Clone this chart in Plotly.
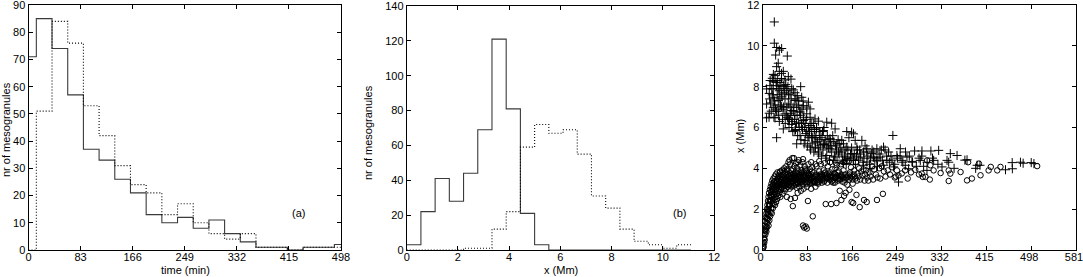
import plotly.graph_objects as go

# ---------------- Panel (a): lifetime histograms ----------------
time_bin_edges_a = [0, 12.5, 37.5, 62.5, 87.5, 112.5, 137.5, 162.5, 187.5, 212.5, 237.5,
                    262.5, 287.5, 312.5, 337.5, 362.5, 387.5, 412.5, 437.5, 462.5, 487.5, 512.5]
counts_a_solid = [71, 85, 74, 57, 37, 33, 26, 21, 13, 10, 12, 8, 11, 6, 3, 1, 1, 0, 1, 1, 2]
counts_a_dotted = [0, 51, 84, 76, 53, 42, 31, 24, 21, 13, 17, 10, 6, 4, 6, 1, 1, 0, 1, 1, 1]
time_ticks = [0, 83, 166, 249, 332, 415, 498]
count_ticks_a = [0, 10, 20, 30, 40, 50, 60, 70, 80, 90]

# ---------------- Panel (b): size histograms ----------------
x_bin_edges_b = [0, 0.555, 1.11, 1.665, 2.22, 2.775, 3.33, 3.885, 4.44, 4.995, 5.55,
                 6.105, 6.66, 7.215, 7.77, 8.325, 8.88, 9.435, 9.99, 10.545, 11.1]
counts_b_solid = [3, 22, 41, 28, 44, 69, 121, 81, 21, 3, 0, 0, 0, 0, 0, 0, 0, 0, 0, 0]
counts_b_dotted = [0, 0, 0, 0, 1, 1, 12, 22, 59, 72, 67, 69, 55, 31, 24, 12, 5, 3, 1, 3]
x_ticks_b = [0, 2, 4, 6, 8, 10, 12]
count_ticks_b = [0, 20, 40, 60, 80, 100, 120, 140]

# ---------------- Panel (c): scatter x vs time ----------------
cross_t = [21.7, 21.7, 26, 31, 35.3, 24.2, 45.8, 29, 26, 31, 38.4, 35, 23, 18, 47.7, 41.5, 19.8, 32,
           52.6, 13.6, 26, 38.4, 70.6, 7.4, 19.8, 31, 44.6, 57, 12.4, 35.3, 50.8, 64.4, 72.5, 19.8,
           41.5, 29, 60, 84.9, 7.4, 47.7, 75.6, 35.3, 19.8, 63.2, 88, 53.9, 29, 69.4, 12.4, 41.5,
           81.8, 60, 7.4, 23, 47.7, 97.2, 75.6, 66.9, 103.4, 53.9, 88, 118.9, 128, 72.5, 38.4, 100,
           60, 81.8, 112.7, 134.4, 156, 165, 168.5, 26, 69.4, 91, 106.5, 125, 78.7, 97.2, 146.8,
           171.6, 184, 241.5, 63.2, 112.7, 137.5, 88, 125, 156, 174.7, 193.3, 211.8, 224.2, 255.2,
           103.4, 140.6, 165.4, 187, 202.5, 233.5, 281.8, 295.4, 312, 326.4, 118.9, 134.4, 153,
           180.9, 205.6, 218, 249, 267.6, 348, 360.5, 131.3, 168.5, 193.3, 211.8, 230.4, 258.3,
           276.9, 292.4, 317.1, 341.9, 379, 149.9, 187, 224.2, 242.8, 264.5, 298.5, 332.6, 397.7,
           199.4, 270.7, 304.7, 450.3, 462.7, 498, 503, 252,
           15, 17, 22, 24, 27, 28, 30, 33, 34, 36, 37, 39, 40, 42, 43, 45, 46, 48, 49, 51, 52, 54,
           55, 56, 58, 59, 61, 62, 64, 65, 67, 68, 70, 71, 73, 74, 76, 77, 79, 80, 82, 83, 85, 86,
           88, 89, 91, 92, 94, 95, 97, 98, 100, 102, 104, 105, 107, 109, 110, 112, 114, 115, 117,
           120, 122, 124, 126, 128, 130, 133, 135, 138, 140, 142, 145, 148, 150, 152, 155, 158,
           160, 162, 165, 170, 172, 176, 178, 182, 186, 190, 195, 198, 203, 208, 213, 216, 222,
           227, 235, 238, 245, 250, 260, 272, 285, 290,
           12, 13, 14, 16, 18, 20, 21, 23, 25, 26, 29, 31, 32, 35, 38, 41, 44, 47, 50, 53, 57, 60,
           63, 66, 69, 72, 75, 78, 81, 84, 87, 90, 93, 96, 99, 103, 106, 111, 116, 119, 123, 127,
           132, 137, 143, 147, 153, 157, 163, 168, 174, 180, 188, 193, 200, 206, 212, 220, 230,
           240, 255, 265, 278, 295, 305, 315, 325, 345, 355, 375, 395, 403, 463, 478, 483]
cross_x = [11.17, 10.13, 9.92, 9.79, 9.87, 9.55, 9.5, 9.15, 8.98, 8.75, 8.75, 8.65, 8.54, 8.41, 8.49,
           8.33, 8.26, 8.21, 8.37, 8.05, 8.05, 8.05, 8.0, 7.89, 7.89, 7.8, 7.8, 7.84, 7.67, 7.64,
           7.64, 7.56, 7.48, 7.48, 7.4, 7.32, 7.32, 7.24, 7.15, 7.15, 7.07, 7.02, 6.99, 6.99, 6.91,
           6.83, 6.8, 6.75, 6.7, 6.67, 6.67, 6.59, 6.47, 6.47, 6.42, 6.42, 6.34, 6.26, 6.31, 6.15,
           6.1, 6.26, 6.21, 6.02, 5.93, 5.93, 5.85, 5.82, 5.85, 5.93, 5.8, 5.77, 5.69, 5.5, 5.61,
           5.53, 5.61, 5.45, 5.37, 5.28, 5.37, 5.37, 5.37, 5.61, 5.2, 5.17, 5.2, 5.04, 4.96, 5.04,
           5.04, 4.96, 4.96, 5.04, 4.96, 4.8, 4.8, 4.72, 4.8, 4.72, 4.8, 4.85, 4.85, 4.85, 4.88,
           4.63, 4.55, 4.55, 4.55, 4.55, 4.55, 4.63, 4.55, 4.72, 4.63, 4.39, 4.39, 4.31, 4.36, 4.39,
           4.39, 4.34, 4.39, 4.39, 4.39, 4.42, 4.23, 4.15, 4.15, 4.07, 4.15, 4.1, 4.07, 4.15, 3.98,
           3.98, 3.9, 3.93, 4.28, 4.28, 4.23, 3.33,
           7.2, 7.9, 7.3, 6.9, 7.6, 8.3, 6.6, 7.1, 8.0, 7.5, 6.4, 7.0, 7.7, 6.2, 8.1, 7.0, 6.5, 7.6,
           6.0, 7.1, 6.7, 7.9, 6.3, 5.8, 7.0, 6.4, 5.9, 7.4, 6.6, 5.6, 7.1, 6.0, 6.6, 5.4, 6.9, 5.9,
           6.5, 5.2, 6.2, 5.7, 7.0, 5.1, 6.0, 5.5, 6.5, 4.9, 5.8, 5.2, 6.2, 4.8, 5.6, 5.0, 6.0, 5.3,
           4.7, 5.8, 5.1, 4.6, 5.5, 4.9, 6.0, 5.2, 4.5, 5.6, 5.0, 4.4, 5.3, 4.8, 5.6, 4.6, 5.1, 4.3,
           5.4, 4.7, 5.0, 4.4, 5.2, 4.6, 4.2, 4.9, 5.5, 4.4, 5.0, 4.7, 4.2, 4.9, 4.4, 4.7, 4.3, 5.1,
           4.6, 4.2, 4.9, 4.4, 4.1, 4.7, 4.4, 4.9, 4.3, 4.6, 4.2, 4.5, 4.3, 4.6, 4.1, 4.5,
           6.5, 7.4, 8.3, 6.8, 7.6, 8.6, 6.5, 7.1, 8.2, 6.8, 7.9, 6.3, 7.4, 8.4, 6.9, 7.9, 6.6, 8.0,
           6.4, 7.4, 6.8, 7.7, 6.2, 7.3, 6.8, 6.2, 7.3, 6.0, 6.4, 5.6, 5.8, 6.2, 5.5, 5.9, 5.5, 5.0,
           5.4, 5.8, 5.4, 5.1, 5.4, 5.1, 5.3, 4.9, 5.2, 4.8, 4.9, 4.5, 4.7, 4.5, 4.6, 4.9, 4.5, 4.8,
           4.5, 4.8, 4.5, 4.9, 4.6, 4.4, 4.6, 4.8, 4.3, 4.6, 4.3, 4.5, 4.2, 4.3, 4.0, 4.4, 4.0, 4.15,
           3.98, 4.3, 4.25]

circle_t = [0.5, 1, 1.5, 2, 2.5, 3, 3, 3.5, 4, 4.5, 5, 5, 5.5, 6, 6.5, 7, 7, 7.5, 8, 8, 8.5, 9, 9,
            9.5, 10, 10, 10.5, 11, 11, 11.5, 12, 12, 12.5, 13, 13, 13.5, 14, 14, 14.5, 15, 15, 15.5,
            16, 16, 16.5, 17, 17, 17.5, 18, 18, 18.5, 19, 19, 19.5, 20, 20, 20.5, 21, 21, 22, 22,
            22.5, 23, 23, 24, 24, 24.5, 25, 25, 26, 26, 27, 27, 27.5, 28, 28, 29, 29, 30, 30, 31, 31,
            32, 32, 33, 33, 34, 34, 35, 35, 36, 36, 37, 37, 38, 38, 39, 39, 40, 40, 41, 41, 42, 42,
            43, 43, 44, 44, 45, 45, 46, 46, 47, 47, 48, 48, 49, 49, 50, 50, 51, 51, 52, 52, 53, 53,
            54, 54, 55, 55, 56, 56, 57, 57, 58, 58, 59, 59, 60, 60, 61, 61, 62, 62, 63, 63, 64, 64,
            65, 65, 66, 66, 67, 67, 68, 68, 69, 70, 70, 71, 71, 72, 72, 73, 74, 74, 75, 75, 76, 76,
            77, 77, 78, 78, 79, 80, 80, 81, 81, 82, 82, 83, 84, 84, 85, 85, 86, 87, 88, 88, 89, 90,
            90, 91, 92, 92, 93, 94, 95, 96, 97, 98, 99, 100, 100, 102, 103, 104, 105, 106, 108, 108,
            110, 110, 112, 113, 114, 115, 116, 117, 118, 119, 120, 121, 122, 124, 125, 126, 127, 128,
            129, 130, 132, 133, 134, 135, 136, 137, 138, 140, 141, 142, 143, 144, 145, 146, 146, 148,
            149, 150, 151, 152, 153, 154, 155, 156, 157, 158, 160, 161, 162, 163, 164, 165, 166, 167,
            168, 169, 170, 172, 173, 174, 175, 176, 178, 179, 180, 181, 183, 185, 187, 188, 189, 190,
            192, 193, 194, 196, 198, 200, 203, 205, 207, 210, 212, 213, 216, 218, 221, 223, 225, 228,
            232, 236, 240, 245, 247, 249, 252, 258, 264, 269, 275, 283, 290, 295, 297, 302, 305, 310,
            311, 317, 330, 345, 345, 348, 367, 379, 381, 388, 401, 404, 419, 423, 435, 441, 509,
            50, 58, 65, 75, 90, 98, 105, 115, 125, 138, 150, 160,
            33, 36, 39, 42, 45, 47, 51, 53, 56, 58, 62, 64, 66, 69, 71, 73, 76, 79, 83, 86, 89, 91,
            94, 97, 101, 104, 107, 111, 114, 119, 123, 127, 131, 134, 139, 143, 147, 152, 157, 161,
            167, 171,
            2, 4, 6, 8, 9.5, 11, 12.5, 14, 15.5, 17, 18.5, 20, 21.5, 23, 25, 27, 29, 31, 34, 37,
            40, 43, 46, 49, 52, 55, 58, 61, 64, 67, 70, 73, 76, 79, 82, 85, 88, 91, 95, 99,
            103, 107, 111, 115, 120, 125, 130, 135, 140, 145]
circle_x = [0.05, 0.2, 0.4, 0.15, 0.6, 0.35, 0.8, 1.0, 0.5, 1.2, 0.75, 1.4, 0.95, 1.6, 1.15, 1.8,
            0.9, 1.35, 2.0, 1.1, 1.55, 2.2, 1.3, 1.75, 2.4, 1.5, 1.95, 1.2, 2.6, 1.7, 2.15, 2.8, 1.45,
            1.9, 2.4, 2.95, 1.65, 2.2, 2.65, 3.1, 1.85, 2.4, 2.85, 2.05, 3.25, 2.6, 1.8, 3.0, 2.3, 3.4,
            2.75, 2.05, 3.15, 2.5, 2.9, 3.5, 2.25, 2.7, 3.3, 2.45, 3.05, 3.6, 2.85, 2.2, 3.25, 2.6,
            3.7, 3.0, 2.35, 3.4, 2.75, 3.15, 2.5, 3.8, 2.9, 3.5, 3.25, 2.65, 3.0, 3.65, 3.35, 2.8,
            3.1, 3.8, 3.5, 2.6, 3.2, 2.95, 3.6, 3.35, 3.05, 3.9, 3.45, 2.75, 3.2, 3.7, 3.0, 3.5, 3.3,
            4.0, 3.6, 2.9, 3.15, 3.8, 3.45, 3.0, 3.65, 4.1, 3.25, 2.6, 3.5, 3.9, 3.1, 3.7, 3.4, 4.3,
            3.2, 3.6, 3.35, 3.0, 3.75, 4.2, 3.45, 2.5, 3.25, 3.9, 3.55, 3.1, 3.4, 4.5, 3.7, 2.15,
            3.3, 3.95, 3.5, 3.15, 3.65, 4.1, 3.4, 2.55, 3.2, 3.8, 3.55, 4.25, 3.35, 3.05, 3.7, 4.0,
            3.45, 2.8, 3.25, 3.85, 3.55, 4.4, 3.4, 3.1, 3.7, 3.5, 4.15, 3.3, 2.9, 3.6, 3.9, 3.45,
            3.2, 4.3, 3.65, 1.2, 3.4, 3.0, 3.8, 1.1, 3.55, 4.1, 3.3, 3.65, 1.15, 3.45, 3.9, 3.1, 1.05,
            3.55, 3.35, 2.4, 3.75, 4.2, 3.5, 3.25, 3.6, 3.95, 3.4, 3.0, 3.7, 3.5, 3.3, 4.05, 1.65,
            3.55, 3.8, 3.35, 3.6, 3.1, 3.45, 3.7, 4.1, 3.5, 3.25, 3.6, 3.85, 3.4, 3.55, 4.2, 3.3,
            3.7, 3.5, 3.9, 3.65, 3.4, 3.8, 2.25, 3.55, 3.7, 3.3, 4.1, 3.6, 3.45, 3.8, 3.55, 2.25,
            3.35, 3.95, 3.6, 3.45, 3.75, 3.3, 4.0, 3.55, 2.3, 3.65, 3.4, 3.85, 3.6, 2.9, 3.5, 4.2,
            3.7, 2.45, 3.35, 3.55, 3.9, 2.65, 3.45, 3.7, 2.8, 3.55, 4.35, 3.2, 3.65, 3.45, 2.95, 3.8,
            3.55, 4.05, 2.35, 3.6, 3.25, 2.3, 3.7, 3.9, 3.5, 4.3, 2.7, 3.4, 3.75, 3.6, 4.0, 2.1,
            3.45, 3.85, 3.65, 3.95, 2.45, 3.4, 3.7, 3.9, 2.35, 3.55, 3.4, 3.8, 3.6, 4.1, 3.45, 3.95,
            3.7, 2.45, 3.55, 4.0, 3.5, 4.1, 2.75, 3.85, 3.6, 3.9, 3.7, 4.05, 3.55, 3.6, 3.9, 3.65,
            3.75, 3.9, 3.5, 3.8, 3.93, 3.7, 3.74, 3.58, 3.58, 4.39, 3.45, 4.15, 3.9, 3.77, 3.38, 3.9,
            3.74, 3.82, 3.41, 4.3, 3.5, 4.23, 3.66, 3.9, 4.07, 3.9, 4.07, 4.11,
            4.4, 4.5, 4.3, 4.45, 4.3, 4.2, 4.35, 4.25, 4.3, 4.15, 4.3, 4.35,
            3.85, 3.2, 3.85, 3.35, 3.95, 3.4, 3.5, 3.65, 3.35, 3.75, 3.45, 3.3, 3.6, 3.35, 3.75, 3.8,
            3.6, 3.95, 3.8, 3.65, 3.3, 3.85, 3.35, 3.3, 3.3, 3.45, 3.7, 3.6, 3.35, 3.5, 3.7, 3.65,
            3.3, 3.55, 3.8, 3.45, 3.6, 3.3, 3.55, 3.7, 3.45, 3.6,
            0.55, 0.95, 1.05, 1.55, 1.85, 2.0, 2.25, 2.45, 2.7, 2.9, 3.05, 3.2, 3.35, 2.95, 3.1, 3.35,
            3.55, 3.25, 3.45, 3.55, 3.15, 3.45, 3.3, 3.6, 3.15, 3.5, 3.6, 3.25, 3.5, 3.4, 3.6, 3.35,
            3.55, 3.45, 3.25, 3.65, 3.45, 3.55, 3.4, 3.65, 3.35, 3.6, 3.45, 3.75, 3.5, 3.6, 3.4, 3.7,
            3.5, 3.6]
time_ticks_c = [0, 83, 166, 249, 332, 415, 498, 581]
x_ticks_c = [0, 2, 4, 6, 8, 10, 12]

FONT = "Liberation Sans, Arial, Helvetica, sans-serif"
W, H = 1083, 277


def stairs(edges, counts):
    xs = list(edges)
    ys = list(counts) + [counts[-1]]
    return xs, ys


fig = go.Figure()

SOLID = dict(shape="hv", color="#3a3a3a", width=1.1)
DOTTED = dict(shape="hv", color="#000000", width=1.1, dash="1px,2px")

xa, ya = stairs(time_bin_edges_a, counts_a_solid)
fig.add_trace(go.Scatter(x=xa, y=ya, mode="lines", line=SOLID, xaxis="x", yaxis="y", showlegend=False))
xa, ya = stairs(time_bin_edges_a, counts_a_dotted)
fig.add_trace(go.Scatter(x=xa, y=ya, mode="lines", line=DOTTED, xaxis="x", yaxis="y", showlegend=False))

xb, yb = stairs(x_bin_edges_b, counts_b_solid)
fig.add_trace(go.Scatter(x=xb, y=yb, mode="lines", line=SOLID, xaxis="x2", yaxis="y2", showlegend=False))
xb, yb = stairs(x_bin_edges_b, counts_b_dotted)
fig.add_trace(go.Scatter(x=xb, y=yb, mode="lines", line=DOTTED, xaxis="x2", yaxis="y2", showlegend=False))

fig.add_trace(go.Scatter(x=circle_t, y=circle_x, mode="markers",
                         marker=dict(symbol="circle-open", size=5.5, color="#000000", line=dict(width=1)),
                         xaxis="x3", yaxis="y3", showlegend=False))
fig.add_trace(go.Scatter(x=cross_t, y=cross_x, mode="markers",
                         marker=dict(symbol="cross-thin-open", size=6.5, color="#000000", line=dict(width=1)),
                         xaxis="x3", yaxis="y3", showlegend=False))


def px(xpix):
    return xpix / W


def py(ypix):
    return 1 - ypix / H


axis_common = dict(showline=True, linecolor="#000000", linewidth=1, mirror="ticks", ticks="inside",
                   ticklen=4, tickcolor="#000000", showgrid=False, zeroline=False, automargin=False,
                   ticklabeloverflow="allow",
                   tickfont=dict(family=FONT, size=11, color="#000000"))
xaxis_extra = dict(ticklabelstandoff=-3)

TF = dict(family=FONT, size=11, color="#000000")


def title_ann(text, xpix, ypix, angle=0):
    return dict(text=text, x=px(xpix), y=py(ypix), xref="paper", yref="paper", showarrow=False,
                xanchor="center", yanchor="middle", textangle=angle, font=TF)


fig.update_layout(
    width=W, height=H, margin=dict(l=0, r=0, t=0, b=0),
    paper_bgcolor="white", plot_bgcolor="white",
    xaxis=dict(domain=[px(28.5), px(341)], range=[0, 498], tickvals=time_ticks,
               anchor="y", **axis_common, **xaxis_extra),
    yaxis=dict(domain=[py(250), py(5)], range=[0, 90], tickvals=count_ticks_a,
               anchor="x", **axis_common),
    xaxis2=dict(domain=[px(406.7), px(714)], range=[0, 12], tickvals=x_ticks_b,
                anchor="y2", **axis_common, **xaxis_extra),
    yaxis2=dict(domain=[py(250), py(6)], range=[0, 140], tickvals=count_ticks_b,
                anchor="x2", **axis_common),
    xaxis3=dict(domain=[px(762.6), px(1076)], range=[0, 581], tickvals=time_ticks_c,
                anchor="y3", ticklabelshift=-2, **axis_common, **xaxis_extra),
    yaxis3=dict(domain=[py(250), py(5)], range=[0, 12], tickvals=x_ticks_c,
                anchor="x3", **axis_common),
    annotations=[
        title_ann("time (min)", 185, 270),
        title_ann("x (Mm)", 561, 270),
        title_ann("time (min)", 919, 270),
        title_ann("nr of mesogranules", 6, 130, -90),
        title_ann("nr of mesogranules", 368, 133, -90),
        title_ann("x (Mm)", 740, 136, -90),
        dict(text="(a)", x=430, y=13.5, xref="x", yref="y", showarrow=False, font=TF),
        dict(text="(b)", x=10.65, y=21.4, xref="x2", yref="y2", showarrow=False, font=TF),
    ],
)

fig.write_html("out.html", config={"displayModeBar": False, "staticPlot": True},
               post_script="document.body.style.margin='0';document.body.style.overflow='hidden';")
